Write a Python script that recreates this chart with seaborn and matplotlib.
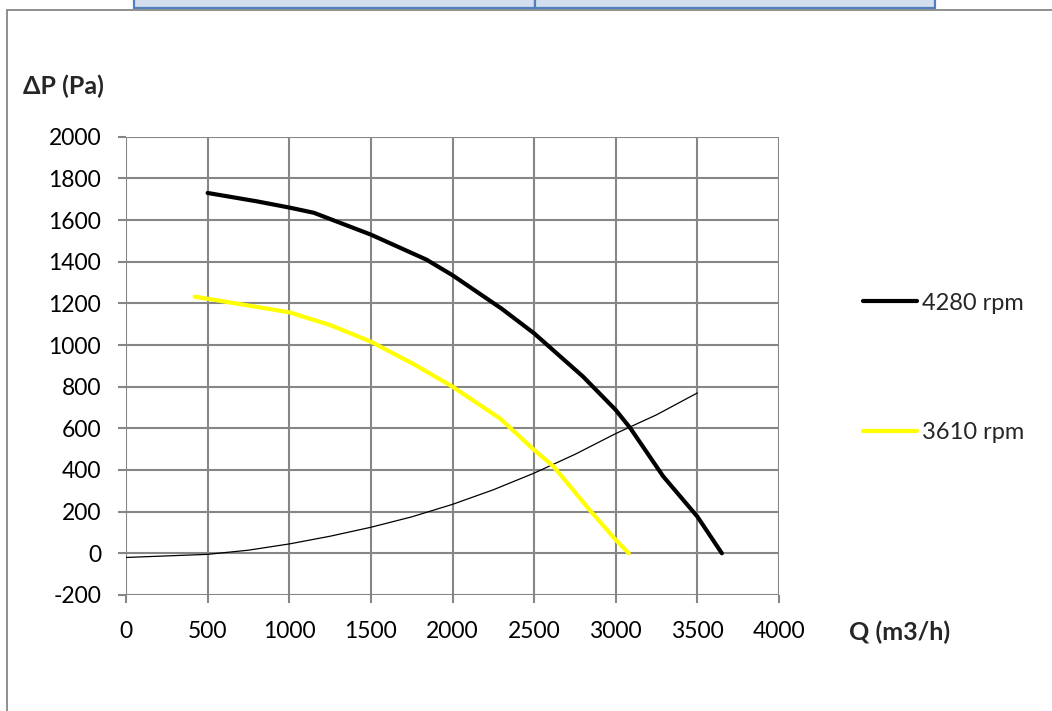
import matplotlib
matplotlib.use("Agg")
import matplotlib.pyplot as plt
from matplotlib.lines import Line2D
from matplotlib.patches import Rectangle
import seaborn as sns
import pandas as pd

# ---- data ----
q_4280 = [500, 800, 1000, 1150, 1500, 1840, 2000, 2300, 2500, 2800, 3000, 3090, 3290, 3500, 3650]
p_4280 = [1730, 1690, 1660, 1635, 1530, 1410, 1335, 1175, 1056, 848, 688, 600, 370, 176, 0]

q_3610 = [420, 500, 1000, 1250, 1500, 1760, 2000, 2290, 2500, 2620, 2840, 3000, 3080]
p_3610 = [1232, 1222, 1157, 1096, 1016, 909, 800, 648, 496, 416, 208, 64, 0]

q_sys = [0, 500, 750, 1000, 1250, 1500, 1750, 2000, 2250, 2500, 2750, 3000, 3250, 3500]
p_sys = [-20, -5, 15, 45, 82, 125, 175, 235, 305, 385, 475, 575, 665, 770]

x_ticks = [0, 500, 1000, 1500, 2000, 2500, 3000, 3500, 4000]
y_ticks = [-200, 0, 200, 400, 600, 800, 1000, 1200, 1400, 1600, 1800, 2000]
labels = ["4280 rpm", "3610 rpm"]

sns.set_theme(style="white")
plt.rcParams["font.family"] = ["Lato", "DejaVu Sans"]

fig = plt.figure(figsize=(10.52, 7.11), dpi=100)
ax = fig.add_axes([0.1198, 0.1632, 0.6207, 0.6445])

grid_c = "#868686"
df_a = pd.DataFrame({"Q": q_4280, "P": p_4280})
df_b = pd.DataFrame({"Q": q_3610, "P": p_3610})
df_s = pd.DataFrame({"Q": q_sys, "P": p_sys})

sns.lineplot(data=df_s, x="Q", y="P", ax=ax, color="black", linewidth=0.9, sort=False, zorder=3)
sns.lineplot(data=df_b, x="Q", y="P", ax=ax, color="#FFFF00", linewidth=3.0, sort=False, zorder=4)
sns.lineplot(data=df_a, x="Q", y="P", ax=ax, color="black", linewidth=3.0, sort=False, zorder=5)

ax.set_xlim(0, 4000)
ax.set_ylim(-200, 2000)
ax.set_xticks(x_ticks)
ax.set_yticks(y_ticks)
ax.set_xticklabels([str(v) for v in x_ticks])
ax.set_yticklabels([str(v) for v in y_ticks])
ax.grid(True, color=grid_c, linewidth=1.5)
ax.set_axisbelow(True)
for s in ax.spines.values():
    s.set_visible(False)
ax.tick_params(axis="both", which="both", direction="out", width=1.5,
               color=grid_c, labelsize=16.5, labelcolor="black",
               bottom=True, left=True)
ax.tick_params(axis="x", length=5.5, pad=13.5)
ax.tick_params(axis="y", length=6, pad=12)
ax.set_xlabel("")
ax.set_ylabel("")

fig.text(0.022, 0.879, "\u0394P (Pa)", fontsize=18, fontweight="bold", ha="left", va="center")
fig.text(0.807, 0.11, "Q (m3/h)", fontsize=18, fontweight="bold", ha="left", va="center")

handles = [Line2D([], [], color="black", linewidth=3.0),
           Line2D([], [], color="#FFFF00", linewidth=3.0)]
leg = fig.legend(handles, labels, loc="upper left", bbox_to_anchor=(0.820, 0.5886),
                 frameon=False, fontsize=17, handlelength=2.3, handletextpad=0.2,
                 labelspacing=4.6, borderaxespad=0, borderpad=0)

# page decorations: table cells at top and outer frame
fig.patches.append(Rectangle((134 / 1052, 1 - 8 / 711), 401 / 1052, 10 / 711, transform=fig.transFigure,
                             facecolor="#D3DFEE", edgecolor="#4F81BD", linewidth=1.6))
fig.patches.append(Rectangle((535 / 1052, 1 - 8 / 711), 400 / 1052, 10 / 711, transform=fig.transFigure,
                             facecolor="#D3DFEE", edgecolor="#4F81BD", linewidth=1.6))
fig.lines.append(Line2D([6.7 / 1052, 1.0], [1 - 9.5 / 711, 1 - 9.5 / 711], transform=fig.transFigure,
                        color="#878787", linewidth=1.3))
fig.lines.append(Line2D([6.7 / 1052, 6.7 / 1052], [0, 1 - 9.5 / 711], transform=fig.transFigure,
                        color="#878787", linewidth=1.3))

fig.savefig("out.png", dpi=100)
